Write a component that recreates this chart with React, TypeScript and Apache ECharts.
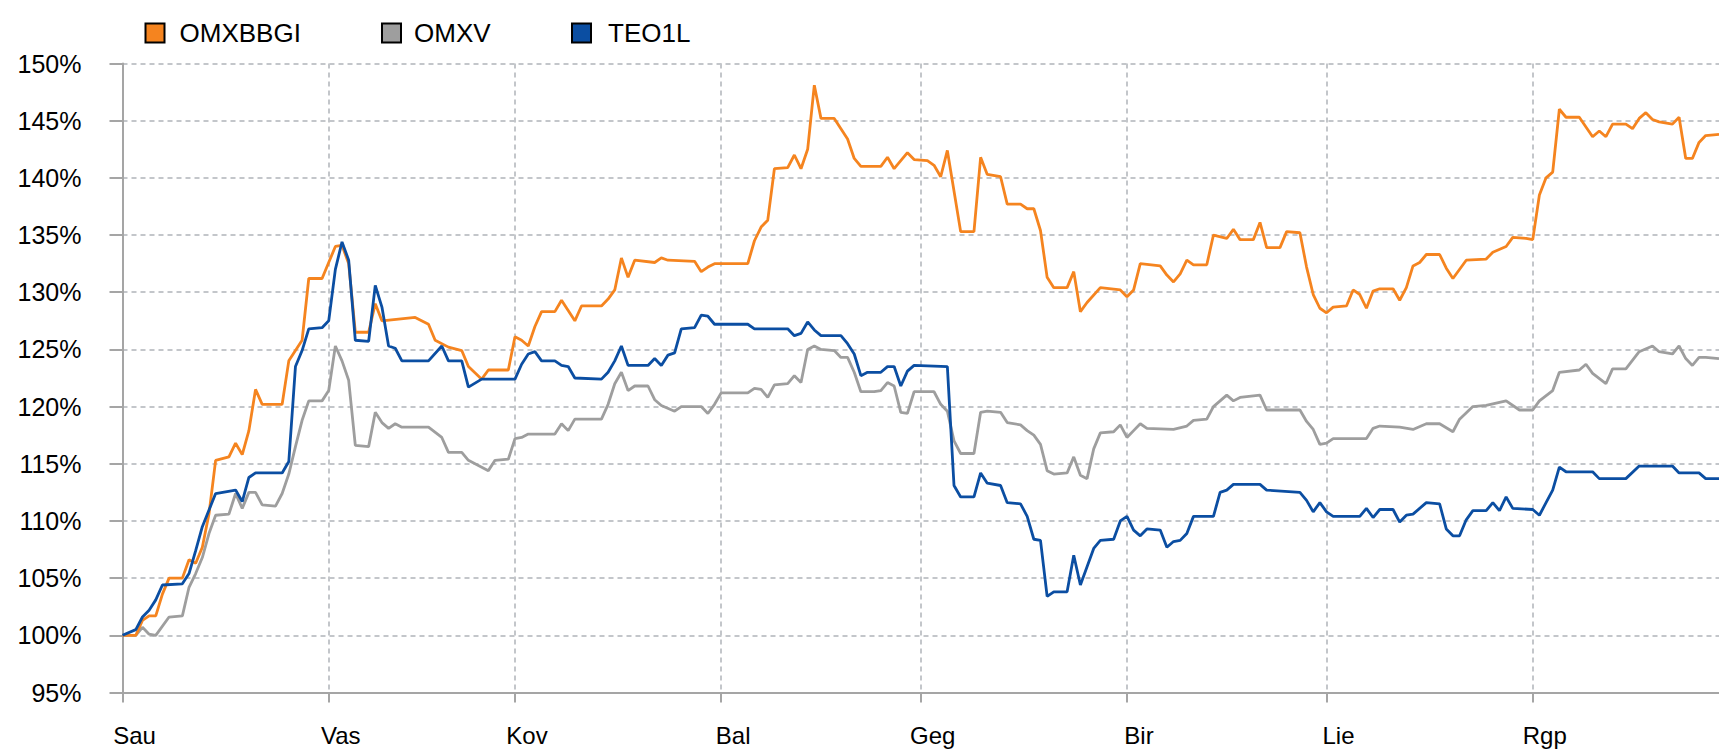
import React, { useEffect, useRef } from "react";
import * as echarts from "echarts";

// Day offsets from 1 January; month starts and their Lithuanian abbreviations
const monthStartDays = [0, 31, 59, 90, 120, 151, 181, 212];
const monthLabels = ["Sau", "Vas", "Kov", "Bal", "Geg", "Bir", "Lie", "Rgp"];
const lastDay = 240;

const yMin = 95;
const yMax = 150;
const yStep = 5;

const seriesNames = ["OMXBBGI", "OMXV", "TEO1L"];

// [day offset, % of start value]
const omxbbgi: [number, number][] = [
  [0, 100], [2, 100], [3, 101.3], [4, 101.7], [5, 101.7], [6, 103.6], [7, 105.0], [9, 105.0], [10, 106.6], [11, 106.3],
  [12, 107.7], [13, 110.6], [14, 115.3], [16, 115.6], [17, 116.8], [18, 115.8], [19, 117.9], [20, 121.5], [21, 120.2],
  [24, 120.2], [25, 124.0], [27, 125.8], [28, 131.2], [30, 131.2], [31, 132.6], [32, 134.0], [33, 134.1], [34, 132.5],
  [35, 126.5], [37, 126.5], [38, 129.0], [39, 127.5], [44, 127.8], [46, 127.2], [47, 125.8], [49, 125.2], [51, 124.9],
  [52, 123.5], [54, 122.4], [55, 123.2], [58, 123.2], [59, 126.1], [60, 125.8], [61, 125.3], [62, 127.0], [63, 128.3],
  [65, 128.3], [66, 129.3], [67, 128.4], [68, 127.5], [69, 128.8], [72, 128.8], [73, 129.4], [74, 130.2], [75, 133.0],
  [76, 131.3], [77, 132.8], [80, 132.6], [81, 133.0], [82, 132.8], [86, 132.7], [87, 131.8], [88, 132.2], [89, 132.5],
  [94, 132.5], [95, 134.5], [96, 135.7], [97, 136.3], [98, 140.8], [100, 140.9], [101, 142.0], [102, 140.8], [103, 142.5],
  [104, 148.1], [105, 145.2], [107, 145.2], [108, 144.3], [109, 143.4], [110, 141.7], [111, 141.0], [114, 141.0],
  [115, 141.8], [116, 140.8], [118, 142.2], [119, 141.6], [121, 141.5], [122, 141.1], [123, 140.1], [124, 142.4],
  [126, 135.3], [128, 135.3], [129, 141.8], [130, 140.3], [132, 140.1], [133, 137.7], [135, 137.7], [136, 137.3],
  [137, 137.3], [138, 135.4], [139, 131.3], [140, 130.4], [142, 130.4], [143, 131.8], [144, 128.3], [145, 129.1],
  [147, 130.4], [150, 130.2], [151, 129.6], [152, 130.2], [153, 132.5], [156, 132.3], [157, 131.5], [158, 130.9],
  [159, 131.6], [160, 132.8], [161, 132.4], [163, 132.4], [164, 135.0], [166, 134.7], [167, 135.5], [168, 134.6],
  [170, 134.6], [171, 136.1], [172, 133.9], [174, 133.9], [175, 135.3], [177, 135.2], [178, 132.2], [179, 129.8],
  [180, 128.6], [181, 128.2], [182, 128.7], [184, 128.8], [185, 130.2], [186, 129.8], [187, 128.6], [188, 130.1],
  [189, 130.3], [191, 130.3], [192, 129.3], [193, 130.4], [194, 132.3], [195, 132.6], [196, 133.3], [198, 133.3],
  [199, 132.1], [200, 131.2], [202, 132.8], [205, 132.9], [206, 133.5], [208, 134.0], [209, 134.8], [211, 134.7],
  [212, 134.6], [213, 138.5], [214, 140.0], [215, 140.5], [216, 146.0], [217, 145.3], [219, 145.3], [221, 143.6],
  [222, 144.1], [223, 143.6], [224, 144.7], [226, 144.7], [227, 144.3], [228, 145.2], [229, 145.7], [230, 145.1],
  [231, 144.9], [233, 144.7], [234, 145.3], [235, 141.7], [236, 141.7], [237, 143.1], [238, 143.7], [240, 143.8],
];

const omxv: [number, number][] = [
  [0, 100], [2, 100], [3, 100.7], [4, 100.1], [5, 100.0], [7, 101.6], [9, 101.7], [10, 104.2], [11, 105.4], [12, 106.8],
  [13, 108.9], [14, 110.5], [16, 110.6], [17, 112.4], [18, 111.1], [19, 112.5], [20, 112.5], [21, 111.4], [23, 111.3],
  [24, 112.4], [25, 114.1], [26, 116.5], [27, 118.8], [28, 120.5], [30, 120.5], [31, 121.4], [32, 125.3], [33, 124.0],
  [34, 122.3], [35, 116.6], [37, 116.5], [38, 119.5], [39, 118.6], [40, 118.1], [41, 118.5], [42, 118.2], [46, 118.2],
  [48, 117.3], [49, 116.0], [51, 116.0], [52, 115.3], [55, 114.4], [56, 115.3], [58, 115.4], [59, 117.2], [60, 117.3],
  [61, 117.6], [65, 117.6], [66, 118.5], [67, 117.9], [68, 118.9], [72, 118.9], [73, 120.2], [74, 122.0], [75, 123.0],
  [76, 121.4], [77, 121.8], [79, 121.8], [80, 120.6], [81, 120.1], [83, 119.6], [84, 120.0], [87, 120.0], [88, 119.4],
  [89, 120.2], [90, 121.2], [94, 121.2], [95, 121.6], [96, 121.5], [97, 120.8], [98, 121.9], [100, 122.0], [101, 122.7],
  [102, 122.1], [103, 125.0], [104, 125.3], [105, 125.0], [107, 124.9], [108, 124.3], [109, 124.3], [110, 123.0],
  [111, 121.3], [113, 121.3], [114, 121.4], [115, 122.1], [116, 121.8], [117, 119.5], [118, 119.4], [119, 121.3],
  [122, 121.3], [123, 120.2], [124, 119.6], [125, 117.0], [126, 115.9], [128, 115.9], [129, 119.5], [130, 119.6],
  [132, 119.5], [133, 118.6], [135, 118.4], [136, 117.9], [137, 117.5], [138, 116.7], [139, 114.4], [140, 114.1],
  [142, 114.2], [143, 115.6], [144, 114.0], [145, 113.7], [146, 116.3], [147, 117.7], [149, 117.8], [150, 118.4],
  [151, 117.3], [152, 117.9], [153, 118.5], [154, 118.1], [158, 118.0], [160, 118.3], [161, 118.8], [163, 118.9],
  [164, 120.0], [166, 121.0], [167, 120.5], [168, 120.8], [171, 121.0], [172, 119.7], [177, 119.7], [178, 118.7],
  [179, 118.0], [180, 116.7], [181, 116.8], [182, 117.2], [187, 117.2], [188, 118.1], [189, 118.3], [192, 118.2],
  [194, 118.0], [196, 118.5], [198, 118.5], [200, 117.8], [201, 118.9], [203, 120.0], [205, 120.1], [208, 120.5],
  [210, 119.7], [212, 119.7], [213, 120.5], [215, 121.4], [216, 123.0], [219, 123.2], [220, 123.7], [221, 122.9],
  [223, 122.0], [224, 123.3], [226, 123.3], [228, 124.8], [230, 125.3], [231, 124.8], [233, 124.6], [234, 125.3],
  [235, 124.2], [236, 123.6], [237, 124.3], [238, 124.3], [240, 124.2],
];

const teo1l: [number, number][] = [
  [0, 100], [2, 100.5], [3, 101.6], [4, 102.2], [5, 103.1], [6, 104.4], [9, 104.5], [10, 105.4], [11, 107.4], [12, 109.5],
  [14, 112.4], [17, 112.7], [18, 111.7], [19, 113.8], [20, 114.2], [24, 114.2], [25, 115.2], [26, 123.5], [27, 124.9],
  [28, 126.8], [30, 126.9], [31, 127.5], [32, 132.0], [33, 134.4], [34, 132.8], [35, 125.8], [37, 125.7], [38, 130.6],
  [39, 128.7], [40, 125.3], [41, 125.1], [42, 124.0], [46, 124.0], [48, 125.3], [49, 124.0], [51, 124.0], [52, 121.7],
  [54, 122.4], [59, 122.4], [60, 123.7], [61, 124.6], [62, 124.8], [63, 124.0], [65, 124.0], [66, 123.6], [67, 123.5],
  [68, 122.5], [72, 122.4], [73, 123.0], [74, 124.0], [75, 125.3], [76, 123.6], [79, 123.6], [80, 124.2], [81, 123.6],
  [82, 124.5], [83, 124.7], [84, 126.8], [86, 126.9], [87, 128.0], [88, 127.9], [89, 127.2], [94, 127.2], [95, 126.8],
  [100, 126.8], [101, 126.2], [102, 126.4], [103, 127.4], [104, 126.7], [105, 126.2], [108, 126.2], [109, 125.5],
  [110, 124.6], [111, 122.7], [112, 123.0], [114, 123.0], [115, 123.5], [116, 123.5], [117, 121.8], [118, 123.1],
  [119, 123.6], [124, 123.5], [125, 113.1], [126, 112.1], [128, 112.1], [129, 114.2], [130, 113.3], [132, 113.1],
  [133, 111.6], [135, 111.5], [136, 110.4], [137, 108.4], [138, 108.3], [139, 103.4], [140, 103.8], [142, 103.8],
  [143, 107.0], [144, 104.4], [145, 106.0], [146, 107.6], [147, 108.3], [149, 108.4], [150, 110.0], [151, 110.4],
  [152, 109.2], [153, 108.7], [154, 109.3], [156, 109.2], [157, 107.7], [158, 108.2], [159, 108.3], [160, 108.9],
  [161, 110.4], [164, 110.4], [165, 112.5], [166, 112.7], [167, 113.2], [171, 113.2], [172, 112.7], [177, 112.5],
  [178, 111.8], [179, 110.8], [180, 111.6], [181, 110.8], [182, 110.4], [186, 110.4], [187, 111.1], [188, 110.3],
  [189, 111.0], [191, 111.0], [192, 109.9], [193, 110.5], [194, 110.6], [196, 111.6], [198, 111.5], [199, 109.3],
  [200, 108.7], [201, 108.7], [202, 110.1], [203, 110.9], [205, 110.9], [206, 111.6], [207, 110.9], [208, 112.1],
  [209, 111.1], [212, 111.0], [213, 110.5], [214, 111.6], [215, 112.7], [216, 114.7], [217, 114.3], [221, 114.3],
  [222, 113.7], [226, 113.7], [228, 114.8], [233, 114.8], [234, 114.2], [237, 114.2], [238, 113.7], [240, 113.7],
];

const FONT = "'Liberation Sans', Arial, sans-serif";
const COLORS = ["#F5841F", "#9E9E9E", "#0B4EA2"];

export default function App() {
  const ref = useRef<HTMLDivElement>(null);

  useEffect(() => {
    if (!ref.current) return;
    const chart = echarts.init(ref.current, undefined, { renderer: "svg" });

    const days: string[] = [];
    for (let d = 0; d <= lastDay; d++) days.push(String(d));
    const monthSet = new Set(monthStartDays);
    const isMonthStart = (idx: number) => monthSet.has(idx);
    const labelFor = (v: string) => {
      const i = monthStartDays.indexOf(Number(v));
      return i >= 0 ? monthLabels[i] : "";
    };

    const legendBase = {
      top: 15,
      icon: "rect",
      itemWidth: 19,
      itemHeight: 19,
      itemStyle: { borderColor: "#000", borderWidth: 2 },
      selectedMode: false,
    };

    chart.setOption({
      animation: false,
      backgroundColor: "#fff",
      color: COLORS,
      legend: [
        { ...legendBase, data: [seriesNames[0]], left: 139.5, textStyle: { fontSize: 26, color: "#000", fontFamily: FONT, padding: [0, 0, 0, 10] } },
        { ...legendBase, data: [seriesNames[1]], left: 376, textStyle: { fontSize: 26, color: "#000", fontFamily: FONT, padding: [0, 0, 0, 8] } },
        { ...legendBase, data: [seriesNames[2]], left: 566, textStyle: { fontSize: 26, color: "#000", fontFamily: FONT, padding: [0, 0, 0, 12] } },
      ],
      grid: { left: 122.5, right: 0, top: 63.5, bottom: 57.5, containLabel: false },
      xAxis: {
        type: "category",
        data: days,
        boundaryGap: false,
        axisLine: { show: true, lineStyle: { color: "#A5A5A5", width: 2 } },
        axisTick: { show: true, interval: (i: number) => isMonthStart(i), length: 10, lineStyle: { color: "#A5A5A5", width: 2 } },
        axisLabel: {
          interval: (i: number) => isMonthStart(i),
          formatter: labelFor,
          color: "#000",
          fontSize: 24,
          fontFamily: FONT,
          margin: 31,
          padding: [0, 0, 0, 24],
        },
        splitLine: {
          show: true,
          interval: (i: number) => isMonthStart(i) && i !== 0,
          lineStyle: { color: "#C3C6CA", width: 2, type: [5, 4] },
        },
      },
      yAxis: {
        type: "value",
        min: yMin,
        max: yMax,
        interval: yStep,
        axisLine: { show: true, lineStyle: { color: "#A5A5A5", width: 2 } },
        axisTick: { show: true, length: 13, lineStyle: { color: "#A5A5A5", width: 2 } },
        axisLabel: {
          formatter: "{value}%",
          color: "#000",
          fontSize: 25,
          fontFamily: FONT,
          margin: 41,
        },
        splitLine: { show: true, lineStyle: { color: "#C3C6CA", width: 2, type: [5, 4] } },
      },
      series: [
        { name: seriesNames[0], type: "line", data: omxbbgi, showSymbol: false, symbol: "none", z: 3, lineStyle: { width: 2.8 } },
        { name: seriesNames[1], type: "line", data: omxv, showSymbol: false, symbol: "none", z: 2, lineStyle: { width: 2.8 } },
        { name: seriesNames[2], type: "line", data: teo1l, showSymbol: false, symbol: "none", z: 4, lineStyle: { width: 2.8 } },
      ],
    });

    return () => chart.dispose();
  }, []);

  return <div ref={ref} style={{ position: "absolute", left: 0, top: 0, width: 1719, height: 750 }} />;
}
